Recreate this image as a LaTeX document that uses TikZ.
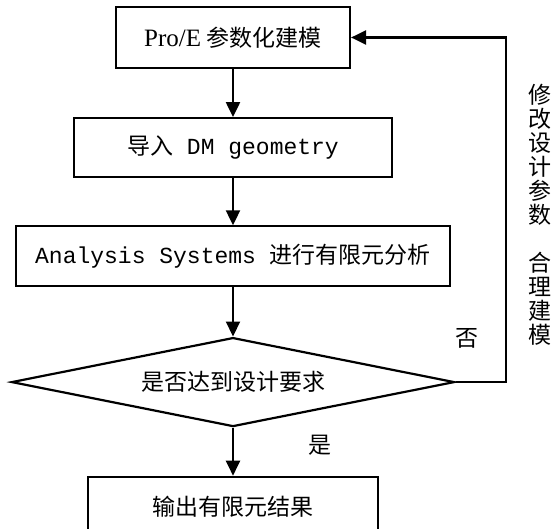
\documentclass[tikz,border=0pt]{standalone}
\usepackage{fontspec}
\setmainfont{Liberation Serif}
\setmonofont{Liberation Mono}
\newfontfamily\cjk{Noto Sans CJK SC}
\usetikzlibrary{arrows.meta,positioning,shapes.geometric}
\tikzset{main base/.style={draw,line width=1.1pt,text centered,inner sep=0pt,font=\fontsize{11.5}{13}\selectfont}, }
\tikzset{main node/.style={rectangle,main base,minimum height=30pt}, }
\tikzset{decision/.style={diamond,main base,aspect=5,minimum width=221.5pt,minimum height=44.5pt}, }
\tikzset{main verb/.style={inner sep=0pt,font=\fontsize{11.5}{13}\selectfont\cjk}, }
\tikzset{linea/.style={-{Triangle[width=7pt,length=7.5pt]},line width=1.1pt,draw}}

\begin{document}
\begin{tikzpicture}
  \useasboundingbox (0,0) rectangle (278.5pt,-264.5pt);
    \node[main node,minimum width=117pt,minimum height=30.5pt] (1) at (116.5pt,-18.75pt) {{\fontsize{12.5}{13}\selectfont Pro/E} {\cjk 参数化建模}};
    \node[main node,minimum width=159pt,minimum height=29.5pt] (2) [below=24pt of 1] {{\cjk 导入}\texttt{ DM geometry}};
    \node[main node,minimum width=217pt] (3) [below=23.5pt of 2] {\texttt{Analysis Systems }{\cjk 进行有限元分析}};
    \node[decision] (4) [below=24.5pt of 3] {\cjk 是否达到设计要求};
    \node[main node,minimum width=145pt] (5) [below=24pt of 4] {\cjk 输出有限元结果};
    \node[main verb] (6) at (160pt,-222.5pt) {是};
    \node[main verb] (7) at (233.5pt,-169pt) {否};
    \node[main verb,align=center,font=\fontsize{11.5}{12}\selectfont\cjk] (8) at (270pt,-107.5pt)
      {修\\改\\设\\计\\参\\数\\[12pt]合\\理\\建\\模};
 
\foreach \x /\y in{1/2,2/3,3/4,4/5}
  \path[linea] (\x) edge node {} (\y);
  \draw[linea] (4.east) -| ([xshift=25pt]4.east |- 1.east) -- (1.east);
%  
\end{tikzpicture}
\end{document}
